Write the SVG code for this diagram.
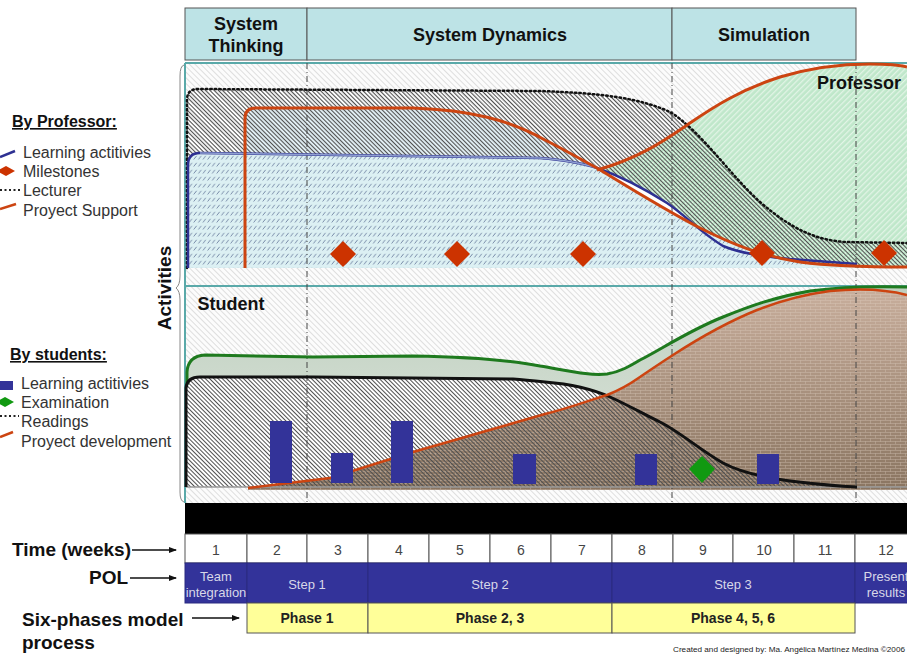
<svg xmlns="http://www.w3.org/2000/svg" width="907" height="655" viewBox="0 0 907 655">
<style>
.hdr{fill:#bde3e6;stroke:#555;stroke-width:1}
.hb{font-family:"Liberation Sans",Arial,sans-serif;font-weight:bold;font-size:18px;fill:#111;text-anchor:middle}
.lg{font-family:"Liberation Sans",Arial,sans-serif;font-size:16px;fill:#333}
.lgt{font-family:"Liberation Sans",Arial,sans-serif;font-size:16px;font-weight:bold;fill:#111;text-decoration:underline}
.big{font-family:"Liberation Sans",Arial,sans-serif;font-size:19px;font-weight:bold;fill:#111}
.wk{fill:#fff;stroke:#555;stroke-width:1}
.wkt{font-family:"Liberation Sans",Arial,sans-serif;font-size:14px;fill:#444;text-anchor:middle}
.pol{fill:#33339a;stroke:#2a2a80;stroke-width:1}
.polt{font-family:"Liberation Sans",Arial,sans-serif;font-size:13px;fill:#d8d8e8;text-anchor:middle}
.ph{fill:#ffff99;stroke:#555;stroke-width:1}
.pht{font-family:"Liberation Sans",Arial,sans-serif;font-size:14px;font-weight:bold;fill:#222;text-anchor:middle}
.vd{stroke:#444;stroke-width:1;stroke-dasharray:6 3 1 3;fill:none}
.ms{fill:#cc3300}
.bar{fill:#333399}
.arr{stroke:#111;stroke-width:1.3;fill:none;marker-end:url(#ah)}
</style>
<defs>
<marker id="ah" markerWidth="8" markerHeight="8" refX="7" refY="4" orient="auto" markerUnits="userSpaceOnUse"><path d="M0,1 L8,4 L0,7 Z" fill="#111"/></marker>
<pattern id="bg" width="4" height="4" patternUnits="userSpaceOnUse" patternTransform="rotate(-45)"><rect width="4" height="4" fill="#fcfcfc"/><rect width="1" height="4" fill="#dedede"/></pattern>
<pattern id="dk" width="3" height="3" patternUnits="userSpaceOnUse" patternTransform="rotate(-45)"><rect width="1" height="3" fill="#505050"/></pattern>
<pattern id="lb" width="4.6" height="7" patternUnits="userSpaceOnUse"><rect width="4.6" height="7" fill="#dcf0f3"/><path d="M0.6,5.5 L3.4,1.8" stroke="#6d7fa0" stroke-width="0.9"/></pattern>
<pattern id="gr" width="4" height="4" patternUnits="userSpaceOnUse" patternTransform="rotate(45)"><rect width="4" height="4" fill="#bfe7ca"/><rect width="1.3" height="4" fill="#e2f4e6"/></pattern>
<pattern id="brick" width="10" height="6" patternUnits="userSpaceOnUse"><path d="M0,0.5 H10 M0,3.5 H10 M0.5,0.5 V3.5 M5.5,3.5 V6.5" stroke="#e0cfc2" stroke-width="0.7" opacity="0.45" fill="none"/></pattern>
<linearGradient id="brg" x1="0" y1="0" x2="0" y2="1"><stop offset="0" stop-color="#c8ae9c"/><stop offset="1" stop-color="#8a7561"/></linearGradient>
<linearGradient id="sgg" x1="0" y1="0" x2="0" y2="1"><stop offset="0" stop-color="#bfcfbf"/><stop offset="1" stop-color="#dde6dd"/></linearGradient>
</defs>

<g id="header">
<rect class="hdr" x="185" y="8" width="122" height="52"/>
<rect class="hdr" x="307" y="8" width="365" height="52"/>
<rect class="hdr" x="672" y="8" width="184" height="52"/>
<text class="hb" x="246" y="30">System</text>
<text class="hb" x="246" y="52">Thinking</text>
<text class="hb" x="490" y="41">System Dynamics</text>
<text class="hb" x="764" y="41">Simulation</text>
</g>

<g id="legend-professor">
<text class="lgt" x="12" y="127">By Professor:</text>
<path d="M0,157 L15,151" stroke="#2e3092" stroke-width="2.5"/>
<polygon class="ms" points="-3,171 6,166 15,171 6,176"/>
<path d="M0,190 L20,190" stroke="#222" stroke-width="2" stroke-dasharray="2 2.5"/>
<path d="M0,209 L16,204" stroke="#cc4411" stroke-width="2.5"/>
<text class="lg" x="23" y="158">Learning actitivies</text>
<text class="lg" x="23" y="177">Milestones</text>
<text class="lg" x="23" y="196">Lecturer</text>
<text class="lg" x="23" y="216">Proyect Support</text>
</g>

<g id="legend-students">
<text class="lgt" x="10" y="360">By students:</text>
<rect class="bar" x="0" y="381" width="13" height="9"/>
<polygon points="-4,402 5,397 14,402 5,407" fill="#119911"/>
<path d="M0,416 L19,416" stroke="#222" stroke-width="2" stroke-dasharray="2 2.5"/>
<path d="M0,437 L13,432" stroke="#cc4411" stroke-width="2.5"/>
<text class="lg" x="21" y="389">Learning actitivies</text>
<text class="lg" x="21" y="408">Examination</text>
<text class="lg" x="21" y="427">Readings</text>
<text class="lg" x="21" y="447">Proyect development</text>
</g>

<g id="activities-axis">
<path d="M184,65 Q180,66 180,76 L180,276 Q180,285 176,288 Q180,291 180,300 L180,492 Q180,501 184,502" stroke="#888" stroke-width="1" fill="none"/>
<text class="big" font-size="18" transform="translate(171,288) rotate(-90)" text-anchor="middle">Activities</text>
</g>

<g id="chart-background">
<rect x="185" y="63" width="722" height="440" fill="url(#bg)"/>
</g>

<g id="professor-panel">
<path id="green-area" d="M597,170 C640,158 665,140 690,123 C715,106 740,90 780,77 C810,68 840,64 870,64 C890,64 900,65 907,67 L907,268 L597,268 Z" fill="url(#gr)"/>
<path d="M245,268 L245,118 Q245,108 256,108 L413,108 C470,110 510,120 545,140 C565,150 582,160 597,168 L597,268 Z" fill="#cfe4ec" opacity="0.6"/>
<path id="lecturer-area" d="M187,268 L187,100 Q187,89 198,89 L540,91 C600,93 640,98 670,112 C700,130 730,175 760,202 C790,228 815,240 845,242 L907,243 L907,268 Z" fill="url(#dk)"/>
<path id="learning-area" d="M188,268 L188,165 Q188,153 200,153 L540,158 C565,160 582,163 597,168 C620,182 665,210 700,228 C730,243 760,256 800,262 C830,266 845,267 857,267 L857,268 Z" fill="url(#lb)"/>
<path d="M597,168 C620,176 645,189 667,203 C685,215 700,232 723,246 L700,228 C665,210 620,182 597,168 Z" fill="#fff"/>
<text class="hb" x="859" y="89">Professor</text>
</g>

<g id="student-panel">
<path id="student-green-area" d="M187,487 L187,372 Q188,356 205,355 L313,357 L413,356 C470,357 510,360 540,366 C570,371 590,376 607,374 C620,372 630,366 640,360 C660,350 690,330 723,317 C750,306 775,297 810,291 C840,287 870,286 907,287 L907,487 Z" fill="url(#sgg)"/>
<path id="readings-white" d="M186,487 L186,388 Q187,377 200,377 L313,377 L513,379 C525,380 535,381 545,382 C570,384 590,388 610,397 C630,406 645,415 660,422 C680,432 700,450 723,463 C740,472 760,477 790,481 C815,484 835,486 857,487 Z" fill="#fff"/>
<path id="project-area" d="M248,488 L330,478 L413,452 L545,414 C570,408 590,400 607,395 C620,390 630,384 640,377 C655,367 665,360 673,355 C690,344 720,325 757,310 C780,301 800,295 830,291 C860,288 885,289 907,295 L907,490 L248,490 Z" fill="url(#brg)"/>
<path d="M248,488 L330,478 L413,452 L545,414 C570,408 590,400 607,395 C620,390 630,384 640,377 C655,367 665,360 673,355 C690,344 720,325 757,310 C780,301 800,295 830,291 C860,288 885,289 907,295 L907,490 L248,490 Z" fill="url(#brick)"/>
<path id="readings-area" d="M186,487 L186,388 Q187,377 200,377 L313,377 L513,379 C525,380 535,381 545,382 C570,384 590,388 610,397 C630,406 645,415 660,422 C680,432 700,450 723,463 C740,472 760,477 790,481 C815,484 835,486 857,487 Z" fill="url(#dk)"/>
<line x1="186" y1="487" x2="907" y2="487" stroke="#999" stroke-width="1.5"/>
<text class="hb" x="231" y="310">Student</text>
</g>

<g id="borders">
<line x1="185" y1="63" x2="907" y2="63" stroke="#5aa9a9" stroke-width="2"/>
<line x1="185" y1="286" x2="907" y2="286" stroke="#5aa9a9" stroke-width="2"/>
<line x1="185" y1="63" x2="185" y2="503" stroke="#5aa9a9" stroke-width="2"/>
</g>

<g id="connectors">
<line class="vd" x1="307" y1="63" x2="307" y2="503"/>
<line class="vd" x1="672" y1="63" x2="672" y2="503"/>
<line class="vd" x1="856" y1="63" x2="856" y2="503"/>
<path d="M187,268 L187,100 Q187,89 198,89 L540,91 C600,93 640,98 670,112 C700,130 730,175 760,202 C790,228 815,240 845,242 L907,243" fill="none" stroke="#111" stroke-width="2.5" stroke-dasharray="1.5 3" stroke-linecap="round"/>
<path d="M188,268 L188,165 Q188,153 200,153 L540,158 C565,160 582,163 597,168 C620,176 645,189 667,203 C685,215 700,232 723,246 C740,253 760,256 790,259 L857,264" fill="none" stroke="#2e3092" stroke-width="2.5"/>
<path d="M200,153 L540,158 C565,160 582,163 597,168" fill="none" stroke="#8fa0d0" stroke-width="1.5"/>
<path d="M245,268 L245,118 Q245,108 256,108 L413,108 C470,110 510,120 545,140 C565,150 582,160 597,168 C620,182 665,210 700,228 C730,243 760,256 800,262 C830,266 860,267 907,267" fill="none" stroke="#cc4411" stroke-width="3"/>
<path d="M597,170 C640,158 665,140 690,123 C715,106 740,90 780,77 C810,68 840,64 870,64 C890,64 900,65 907,67" fill="none" stroke="#cc4411" stroke-width="3"/>
<path d="M187,385 L187,372 Q188,356 205,355 L313,357 L413,356 C470,357 510,360 540,366 C570,371 590,376 607,374 C620,372 630,366 640,360 C660,350 690,330 723,317 C750,306 775,297 810,291 C840,287 870,286 907,287" fill="none" stroke="#1e7a1e" stroke-width="3"/>
<path d="M186,487 L186,388 Q187,377 200,377 L313,377 L513,379 C525,380 535,381 545,382 C570,384 590,388 610,397 C630,406 645,415 660,422 C680,432 700,450 723,463 C740,472 760,477 790,481 C815,484 835,486 857,487" fill="none" stroke="#111" stroke-width="3"/>
<path d="M248,488 L330,478 L413,452 L545,414 C570,408 590,400 607,395 C620,390 630,384 640,377 C655,367 665,360 673,355 C690,344 720,325 757,310 C780,301 800,295 830,291 C860,288 885,289 907,295" fill="none" stroke="#cc4411" stroke-width="2.5"/>
</g>

<g id="milestones">
<polygon class="ms" points="343,241 356,254 343,267 330,254"/>
<polygon class="ms" points="457,241 470,254 457,267 444,254"/>
<polygon class="ms" points="583,241 596,254 583,267 570,254"/>
<polygon class="ms" points="762,240 775,253 762,266 749,253"/>
<polygon class="ms" points="884,240 897,253 884,266 871,253"/>
</g>

<g id="student-activities">
<rect class="bar" x="270" y="421" width="22" height="62"/>
<rect class="bar" x="331" y="453" width="22" height="30"/>
<rect class="bar" x="391" y="421" width="22" height="62"/>
<rect class="bar" x="513" y="454" width="23" height="30"/>
<rect class="bar" x="635" y="454" width="22" height="31"/>
<rect class="bar" x="757" y="454" width="22" height="30"/>
<polygon points="702,456 715,469 702,483 689,469" fill="#119911"/>
</g>

<g id="black-bar"><rect x="185" y="503" width="722" height="31" fill="#000"/></g>

<g id="time-row">
<rect class="wk" x="185" y="534" width="62" height="29"/>
<rect class="wk" x="247" y="534" width="60" height="29"/>
<rect class="wk" x="307" y="534" width="61" height="29"/>
<rect class="wk" x="368" y="534" width="61" height="29"/>
<rect class="wk" x="429" y="534" width="61" height="29"/>
<rect class="wk" x="490" y="534" width="61" height="29"/>
<rect class="wk" x="551" y="534" width="61" height="29"/>
<rect class="wk" x="612" y="534" width="61" height="29"/>
<rect class="wk" x="673" y="534" width="60" height="29"/>
<rect class="wk" x="733" y="534" width="61" height="29"/>
<rect class="wk" x="794" y="534" width="61" height="29"/>
<rect class="wk" x="855" y="534" width="60" height="29"/>
<text class="wkt" x="216" y="555">1</text>
<text class="wkt" x="277" y="555">2</text>
<text class="wkt" x="338" y="555">3</text>
<text class="wkt" x="399" y="555">4</text>
<text class="wkt" x="460" y="555">5</text>
<text class="wkt" x="521" y="555">6</text>
<text class="wkt" x="582" y="555">7</text>
<text class="wkt" x="642" y="555">8</text>
<text class="wkt" x="703" y="555">9</text>
<text class="wkt" x="764" y="555">10</text>
<text class="wkt" x="825" y="555">11</text>
<text class="wkt" x="886" y="555">12</text>
</g>

<g id="pol-row">
<rect class="pol" x="185" y="563" width="62" height="40"/>
<rect class="pol" x="247" y="563" width="121" height="40"/>
<rect class="pol" x="368" y="563" width="244" height="40"/>
<rect class="pol" x="612" y="563" width="243" height="40"/>
<rect class="pol" x="855" y="563" width="60" height="40"/>
<text class="polt" x="216" y="581">Team</text>
<text class="polt" x="216" y="597">integration</text>
<text class="polt" x="307" y="589">Step 1</text>
<text class="polt" x="490" y="589">Step 2</text>
<text class="polt" x="733" y="589">Step 3</text>
<text class="polt" x="886" y="581">Present</text>
<text class="polt" x="886" y="597">results</text>
</g>

<g id="phase-row">
<rect class="ph" x="247" y="603" width="121" height="30"/>
<rect class="ph" x="368" y="603" width="244" height="30"/>
<rect class="ph" x="612" y="603" width="243" height="30"/>
<text class="pht" x="307" y="623">Phase 1</text>
<text class="pht" x="490" y="623">Phase 2, 3</text>
<text class="pht" x="733" y="623">Phase 4, 5, 6</text>
</g>

<g id="row-labels">
<text class="big" x="12" y="556">Time (weeks)</text>
<line class="arr" x1="132" y1="550" x2="176" y2="550"/>
<text class="big" x="89" y="584">POL</text>
<line class="arr" x1="130" y1="578" x2="176" y2="578"/>
<text class="big" x="22" y="626">Six-phases model</text>
<text class="big" x="22" y="649">process</text>
<line class="arr" x1="192" y1="618" x2="239" y2="618"/>
</g>

<text x="673" y="652" font-family="'Liberation Sans',Arial,sans-serif" font-size="7" fill="#222" textLength="232" lengthAdjust="spacingAndGlyphs">Created and designed by: Ma. Angélica Martínez Medina ©2006</text>
</svg>
